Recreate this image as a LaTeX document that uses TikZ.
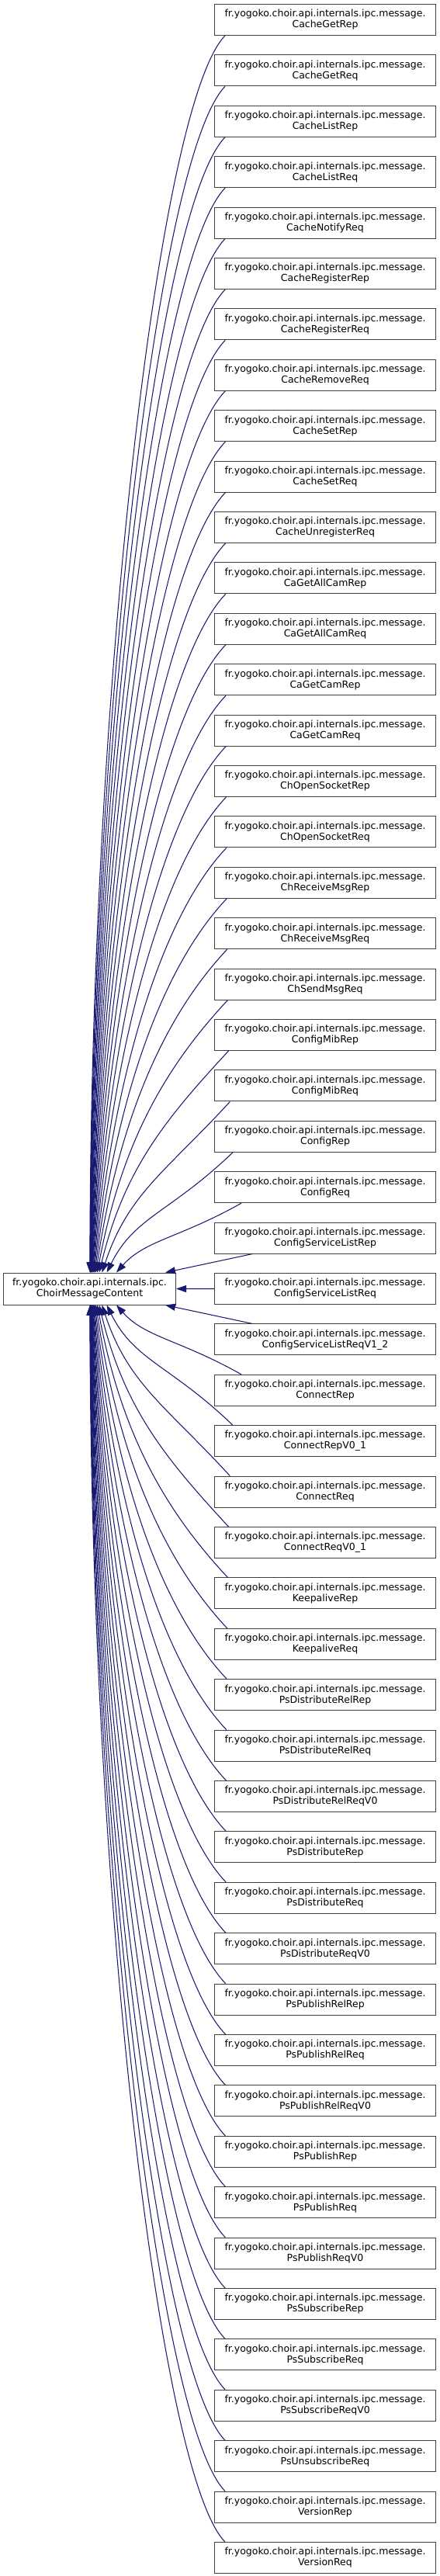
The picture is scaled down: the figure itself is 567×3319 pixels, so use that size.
\documentclass[tikz,border=0pt]{standalone}
\usepackage{fontspec}
\setmainfont{DejaVu Sans}
\usepackage{xcolor}
\definecolor{navyedge}{HTML}{191970}
\definecolor{boxline}{HTML}{404040}
\usetikzlibrary{arrows.meta,calc}
\tikzset{
  cls/.style={draw=boxline, line width=1pt, fill=white, align=center, inner sep=0pt, minimum width=285pt, minimum height=40pt, font=\fontsize{12.5}{14}\selectfont},
  root/.style={cls, minimum width=222pt, minimum height=41pt},
  edge/.style={-{Triangle[length=13pt,width=9pt]}, navyedge, line width=1.05pt},
}
\begin{document}
\begin{tikzpicture}[x=1pt, y=1pt]
  \useasboundingbox (0,0) rectangle (567,-3319);
  % base class
  \node[root, anchor=north west] (base) at (4,-1639.5) {fr.yogoko.choir.api.internals.ipc.\\ChoirMessageContent};
  % derived classes
  \foreach \nm [count=\i] in {CacheGetRep, CacheGetReq, CacheListRep, CacheListReq, CacheNotifyReq,
      CacheRegisterRep, CacheRegisterReq, CacheRemoveReq, CacheSetRep, CacheSetReq,
      CacheUnregisterReq, CaGetAllCamRep, CaGetAllCamReq, CaGetCamRep, CaGetCamReq,
      ChOpenSocketRep, ChOpenSocketReq, ChReceiveMsgRep, ChReceiveMsgReq, ChSendMsgReq,
      ConfigMibRep, ConfigMibReq, ConfigRep, ConfigReq, ConfigServiceListRep,
      ConfigServiceListReq, ConfigServiceListReqV1\_2, ConnectRep, ConnectRepV0\_1, ConnectReq,
      ConnectReqV0\_1, KeepaliveRep, KeepaliveReq, PsDistributeRelRep, PsDistributeRelReq,
      PsDistributeRelReqV0, PsDistributeRep, PsDistributeReq, PsDistributeReqV0, PsPublishRelRep,
      PsPublishRelReq, PsPublishRelReqV0, PsPublishRep, PsPublishReq, PsPublishReqV0,
      PsSubscribeRep, PsSubscribeReq, PsSubscribeReqV0, PsUnsubscribeReq, VersionRep,
      VersionReq}
    \node[cls, anchor=north west] (c\i) at (276,{-5-65.4*(\i-1)}) {fr.yogoko.choir.api.internals.ipc.message.\\\nm};
  % inheritance edges
  \foreach \i in {1,...,51}{
    \pgfmathtruncatemacro\d{\i-26}
    \pgfmathtruncatemacro\a{abs(\d)}
    \ifnum\a=0
      \draw[edge] (c\i.west) -- (base.east);
    \else\ifnum\a=1
      \ifnum\d<0
        \draw[edge] ($(c\i.south west)+(49,0)$) -- ($(base.north east)+(-14,0)$);
      \else
        \draw[edge] ($(c\i.north west)+(49,0)$) -- ($(base.south east)+(-14,0)$);
      \fi
    \else
      \pgfmathsetmacro\off{13+22/(\a-1)}
      \pgfmathsetmacro\tx{109+74/\a}
      \pgfmathsetmacro\dy{65.4*\a-40.5}
      \pgfmathsetmacro\cx{min(89,0.5*(272+\off-\tx))}
      \pgfmathsetmacro\cy{min(90,0.5*\dy)}
      \pgfmathsetmacro\hx{max(0,40-1.6*\a)}
      \pgfmathsetmacro\vy{0.46*\dy}
      \ifnum\d<0
        \draw[edge] ($(c\i.south west)+(\off,0)$) .. controls +(-\cx,-\cy) and +(\hx,\vy) .. ($(base.north west)+(\tx,0)$);
      \else
        \draw[edge] ($(c\i.north west)+(\off,0)$) .. controls +(-\cx,\cy) and +(\hx,-\vy) .. ($(base.south west)+(\tx,0)$);
      \fi
    \fi\fi
  }
\end{tikzpicture}
\end{document}
